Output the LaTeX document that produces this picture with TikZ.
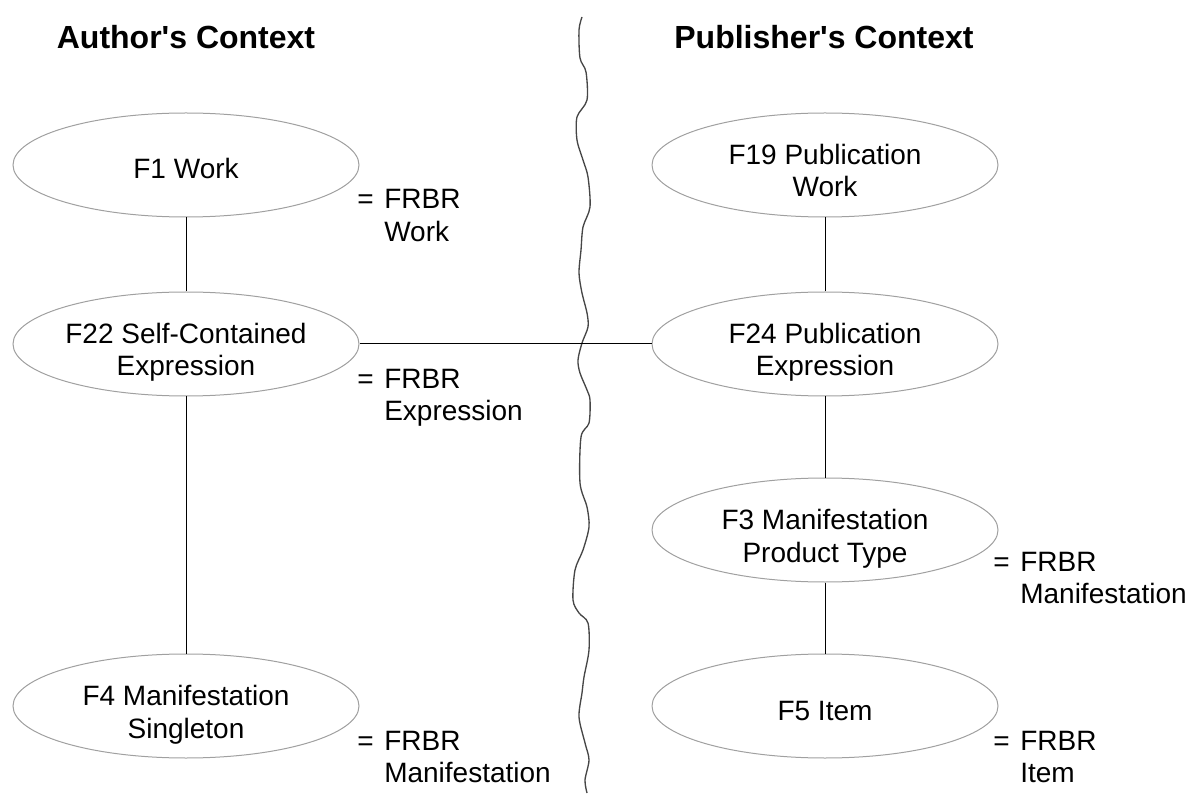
\documentclass[tikz,border=0pt]{standalone}
\usepackage{fontspec}
\setmainfont{Liberation Sans}
\usetikzlibrary{shapes.geometric}

\begin{document}
\begin{tikzpicture}[x=0.75pt,y=0.75pt,yscale=-1,xscale=1,
  entity/.style={ellipse, draw={rgb, 255:red, 160; green, 160; blue, 160}, line width=0.75, minimum width=259.5pt, minimum height=78pt, inner sep=0pt, align=center, font=\fontsize{21}{24.5}\selectfont},
  oneline/.style={entity, text height=21pt, text depth=0pt},
  twoline/.style={entity, text height=48pt, text depth=0pt},
  frbr/.style={anchor=base west, inner sep=0pt, font=\fontsize{21}{24.5}\selectfont},
  heading/.style={inner sep=0pt, font=\fontsize{24}{28}\selectfont\bfseries},
  link/.style={line width=0.75, color=black}]
\useasboundingbox (0,0) rectangle (1192,798);

%Curve Lines (context border)
\draw [color={rgb, 255:red, 70; green, 70; blue, 70 }, line width=1] plot [smooth, tension=0.5] coordinates {
  (582,17) (579,30) (580,58) (586,72) (587,100) (577,117) (577,140) (583,160) (588,177) (590,207)
  (583,227) (581,250) (579,273) (582,293) (587,313) (588,327) (582,343) (578,360) (580,373) (587,390)
  (590,400) (589,423) (581,437) (580,483) (587,507) (589,527) (583,550) (575,570) (573,600) (579,613)
  (588,623) (589,650) (584,677) (582,693) (579,717) (585,743) (589,760) (585,780) (587,793)};

% Text Node
\draw (186,37) node (authhead) [heading] {Author\textquotesingle s Context};
% Text Node
\draw (824,37) node (pubhead) [heading] {Publisher\textquotesingle s Context};

%Shape: Ellipse
\draw (186,165) node (work) [oneline] {F1 Work};
%Shape: Ellipse
\draw (186,344) node (selfexpr) [twoline] {F22 Self-Contained\\Expression};
%Shape: Ellipse
\draw (186,706) node (singleton) [twoline] {F4 Manifestation\\Singleton};
%Shape: Ellipse
\draw (825,165) node (pubwork) [twoline] {F19 Publication\\Work};
%Shape: Ellipse
\draw (825,344) node (pubexpr) [twoline] {F24 Publication\\Expression};
%Shape: Ellipse
\draw (825,530) node (prodtype) [twoline] {F3 Manifestation\\Product Type};
%Shape: Ellipse
\draw (825,706) node (item) [oneline] {F5 Item};

%Straight Lines
\draw [link] (work) -- (selfexpr);
%Straight Lines
\draw [link] (selfexpr) -- (singleton);
%Straight Lines
\draw [link] (selfexpr) -- (pubexpr);
%Straight Lines
\draw [link] (pubwork) -- (pubexpr);
%Straight Lines
\draw [link] (pubexpr) -- (prodtype);
%Straight Lines
\draw [link] (prodtype) -- (item);

% Text Node
\draw (357,209) node (eqwork) [frbr] {\begin{tabular}[t]{@{}l@{\hspace{8pt}}l}=&FRBR\\&Work\end{tabular}};
% Text Node
\draw (357,388) node (eqexpr) [frbr] {\begin{tabular}[t]{@{}l@{\hspace{8pt}}l}=&FRBR\\&Expression\end{tabular}};
% Text Node
\draw (357,750) node (eqsingle) [frbr] {\begin{tabular}[t]{@{}l@{\hspace{8pt}}l}=&FRBR\\&Manifestation\end{tabular}};
% Text Node
\draw (993,571) node (eqprod) [frbr] {\begin{tabular}[t]{@{}l@{\hspace{8pt}}l}=&FRBR\\&Manifestation\end{tabular}};
% Text Node
\draw (993,750) node (eqitem) [frbr] {\begin{tabular}[t]{@{}l@{\hspace{8pt}}l}=&FRBR\\&Item\end{tabular}};

\end{tikzpicture}
\end{document}
